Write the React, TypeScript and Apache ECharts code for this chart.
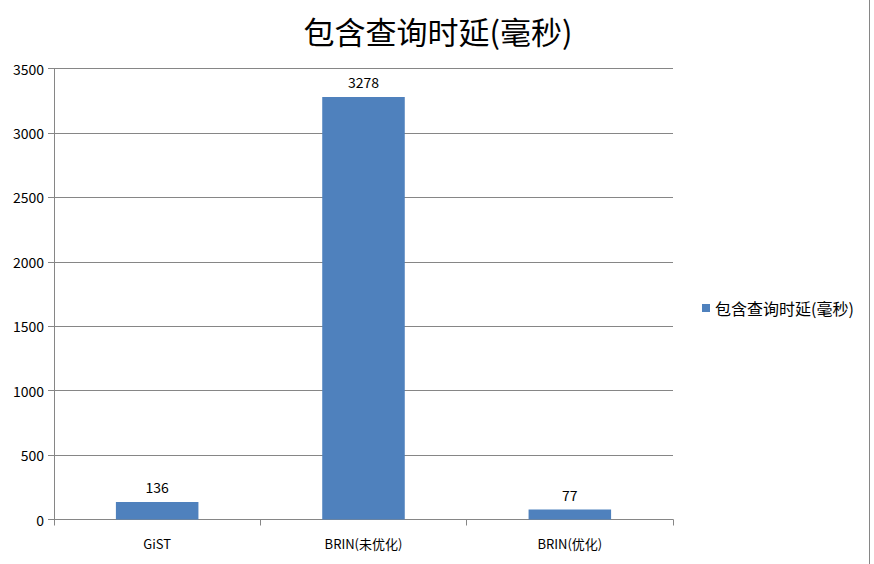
import React, { useEffect, useRef } from "react";
import * as echarts from "echarts";

const categories = ["GiST", "BRIN(未优化)", "BRIN(优化)"];
const latencyMs = [136, 3278, 77];
const seriesName = "包含查询时延(毫秒)";
const titleText = "包含查询时延(毫秒)";

export default function App() {
  const ref = useRef<HTMLDivElement>(null);
  useEffect(() => {
    if (!ref.current) return;
    const chart = echarts.init(ref.current, undefined, { renderer: "svg" });
    const font = "'Noto Sans CJK SC', 'Noto Sans', sans-serif";
    chart.setOption({
      animation: false,
      backgroundColor: "#ffffff",
      textStyle: { fontFamily: font },
      title: {
        text: titleText,
        left: 433,
        textAlign: "center",
        top: 10,
        textStyle: { fontSize: 31, fontWeight: "normal", color: "#000", fontFamily: font },
      },
      legend: {
        left: 697,
        top: 295,
        itemWidth: 8,
        itemHeight: 8,
        itemGap: 6,
        icon: "rect",
        textStyle: { fontSize: 16, color: "#000", fontFamily: font },
        data: [seriesName],
      },
      grid: { left: 54, right: 201, top: 68.5, bottom: 44.5 },
      xAxis: {
        type: "category",
        data: categories,
        axisLine: { lineStyle: { color: "#868686" } },
        axisTick: { show: true, length: 6, lineStyle: { color: "#868686" } },
        axisLabel: { margin: 17, fontSize: 13, color: "#000", fontFamily: font },
      },
      yAxis: {
        type: "value",
        min: 0,
        max: 3500,
        interval: 500,
        axisLine: { show: true, lineStyle: { color: "#868686" } },
        axisTick: { show: true, length: 6, lineStyle: { color: "#868686" } },
        axisLabel: {
          margin: 10,
          fontSize: 14,
          color: "#000",
          fontFamily: font,
          formatter: (v: number) => String(v),
        },
        splitLine: { lineStyle: { color: "#868686" } },
      },
      series: [
        {
          name: seriesName,
          type: "bar",
          data: latencyMs,
          barWidth: "40%",
          itemStyle: { color: "#4F81BD" },
          label: { show: true, position: "top", distance: 8, fontSize: 14, color: "#000", fontFamily: font },
        },
      ],
      graphic: [
        {
          type: "line",
          shape: { x1: 869.5, y1: 0, x2: 869.5, y2: 564 },
          style: { stroke: "#868686", lineWidth: 1 },
        },
      ],
    });
    return () => chart.dispose();
  }, []);
  return <div ref={ref} style={{ position: "fixed", left: 0, top: 0, width: 874, height: 564 }} />;
}
